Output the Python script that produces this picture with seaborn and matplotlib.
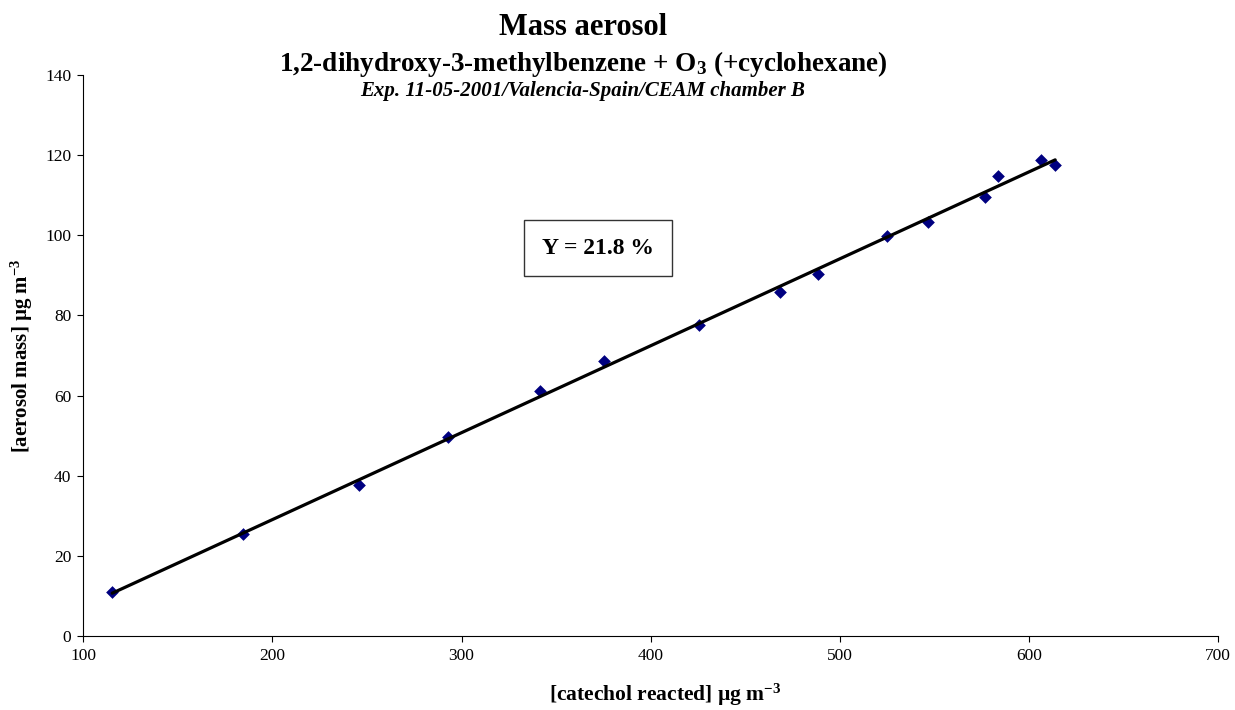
import matplotlib
matplotlib.use("Agg")
import matplotlib.pyplot as plt
import seaborn as sns
import pandas as pd

# ---- data ----
catechol_reacted = [115.3, 184.2, 245.8, 293.0, 341.7, 375.4, 425.6, 468.4,
                    488.7, 525.2, 546.9, 576.8, 583.5, 606.3, 613.9]
aerosol_mass = [10.9, 25.4, 37.8, 49.7, 61.1, 68.6, 77.5, 85.9,
                90.4, 99.8, 103.3, 109.6, 114.9, 118.8, 117.5]
x_ticks = [100, 200, 300, 400, 500, 600, 700]
y_ticks = [0, 20, 40, 60, 80, 100, 120, 140]
yield_label = "Y = 21.8 %"

df = pd.DataFrame({"x": catechol_reacted, "y": aerosol_mass})

sns.set_style("ticks")
plt.rcParams["font.family"] = ["Liberation Serif", "DejaVu Serif"]
plt.rcParams["mathtext.fontset"] = "custom"
plt.rcParams["mathtext.rm"] = "Liberation Serif:bold"
plt.rcParams["mathtext.it"] = "Liberation Serif:bold"
plt.rcParams["mathtext.bf"] = "Liberation Serif:bold"
plt.rcParams["text.color"] = "black"
plt.rcParams["axes.labelcolor"] = "black"
plt.rcParams["xtick.color"] = "black"
plt.rcParams["ytick.color"] = "black"

W, H = 1235, 710
fig = plt.figure(figsize=(W / 100, H / 100), dpi=100)
x0, x1, y0, y1 = 83.3, 1218, 75, 636
ax = fig.add_axes([x0 / W, 1 - y1 / H, (x1 - x0) / W, (y1 - y0) / H])

sns.scatterplot(data=df, x="x", y="y", ax=ax, marker="D", s=42,
                color="#000080", edgecolor="#000080", linewidth=0, zorder=2)
sns.regplot(data=df, x="x", y="y", ax=ax, scatter=False, ci=None,
            truncate=True, line_kws={"color": "black", "lw": 2.3, "zorder": 3})

ax.set_xlim(100, 700)
ax.set_ylim(0, 140)
ax.set_xticks(x_ticks)
ax.set_yticks(y_ticks)
ax.tick_params(axis="both", direction="out", length=4.5, width=0.8,
               color="black", labelsize=12.5, labelcolor="black", pad=4)
for s in ["top", "right"]:
    ax.spines[s].set_visible(False)
for s in ["left", "bottom"]:
    ax.spines[s].set_color("black")
    ax.spines[s].set_linewidth(0.8)

ax.set_xlabel(r"[catechol reacted] µg m$^{-3}$", fontsize=15.5, fontweight="bold")
ax.xaxis.set_label_coords((665 - x0) / (x1 - x0), -(695 - y1) / (y1 - y0))
ax.xaxis.label.set_verticalalignment("center")
ax.set_ylabel(r"[aerosol mass] µg m$^{-3}$", fontsize=15, fontweight="bold")
ax.yaxis.set_label_coords((22 - x0) / (x1 - x0), 0.5)
ax.yaxis.label.set_verticalalignment("center")

ax.text((598 - x0) / (x1 - x0), (y1 - 248) / (y1 - y0), yield_label,
        transform=ax.transAxes, ha="center", va="center", fontsize=17,
        fontweight="bold", color="black",
        bbox=dict(boxstyle="square,pad=0.75", facecolor="white",
                  edgecolor="#333333", linewidth=1.0))

cx = 583 / W
fig.text(cx, 1 - 35 / H, "Mass aerosol", ha="center", va="baseline",
         fontsize=22, fontweight="bold")
fig.text(cx, 1 - 71 / H, r"1,2-dihydroxy-3-methylbenzene + O$_3$ (+cyclohexane)",
         ha="center", va="baseline", fontsize=19.5, fontweight="bold")
fig.text(cx, 1 - 96 / H, "Exp. 11-05-2001/Valencia-Spain/CEAM chamber B",
         ha="center", va="baseline", fontsize=15, fontweight="bold",
         fontstyle="italic")

fig.savefig("out.png", dpi=100)
